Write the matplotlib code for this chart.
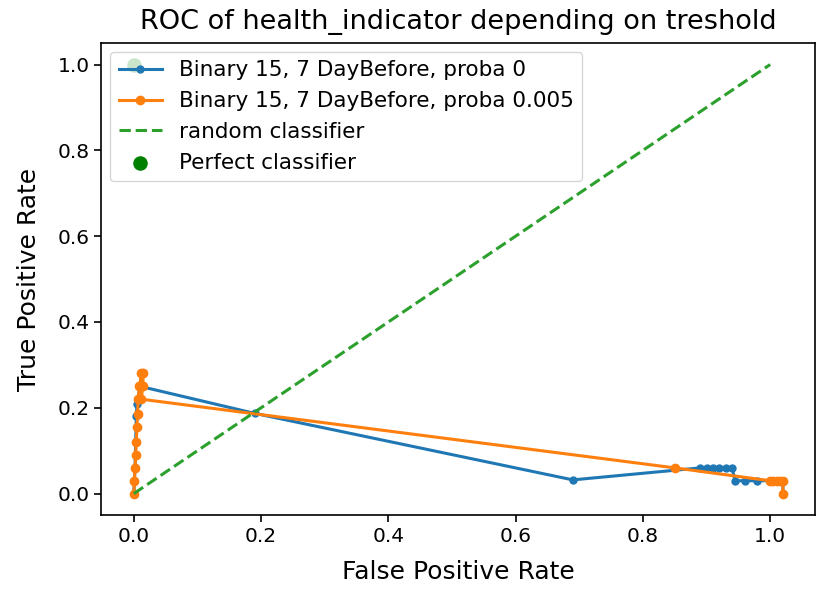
import numpy as np
import matplotlib
matplotlib.use("Agg")
import matplotlib.pyplot as plt

# ROC points for the two probability settings
fpr_0 = [0.0, 0.002, 0.003, 0.004, 0.005, 0.01, 0.19, 0.69, 0.89, 0.90, 0.91, 0.92, 0.93, 0.94,
         0.945, 0.96, 0.98, 1.0, 1.01, 1.02, 1.02]
tpr_0 = [0.0, 0.06, 0.12, 0.18, 0.21, 0.25, 0.187, 0.032, 0.06, 0.06, 0.06, 0.06, 0.06, 0.06,
         0.03, 0.03, 0.03, 0.03, 0.03, 0.03, 0.0]

fpr_005 = [0.0, 0.001, 0.002, 0.003, 0.004, 0.005, 0.006, 0.007, 0.009, 0.012, 0.015, 0.014, 0.012,
           0.85, 1.0, 1.005, 1.01, 1.015, 1.02, 1.02]
tpr_005 = [0.0, 0.03, 0.06, 0.09, 0.12, 0.155, 0.185, 0.22, 0.25, 0.28, 0.28, 0.25, 0.22,
           0.06, 0.03, 0.03, 0.03, 0.03, 0.03, 0.0]

fig = plt.figure(figsize=(8.17, 5.9), dpi=100)
ax = fig.add_axes([0.124, 0.127, 0.874, 0.8])

ax.plot(fpr_0, tpr_0, marker='.', markersize=10, linewidth=2.2, label="Binary 15, 7 DayBefore, proba 0")
ax.plot(fpr_005, tpr_005, marker='.', markersize=12, linewidth=2.2, label="Binary 15, 7 DayBefore, proba 0.005")
ax.plot([0, 1], [0, 1], linestyle='--', linewidth=2.2, color='tab:green', label="random classifier")
ax.scatter([0], [1], color='green', s=90, label="Perfect classifier")

ax.set_title("ROC of health_indicator depending on treshold", fontsize=19.5, pad=10)
ax.set_xlabel("False Positive Rate", fontsize=18, labelpad=10)
ax.set_ylabel("True Positive Rate", fontsize=18, labelpad=12)
ax.tick_params(labelsize=14.5, length=5, width=1.2)
for s in ax.spines.values():
    s.set_linewidth(1.2)
ax.legend(loc='upper left', fontsize=15.5, borderaxespad=0.4)

fig.savefig("out.png", dpi=100)
